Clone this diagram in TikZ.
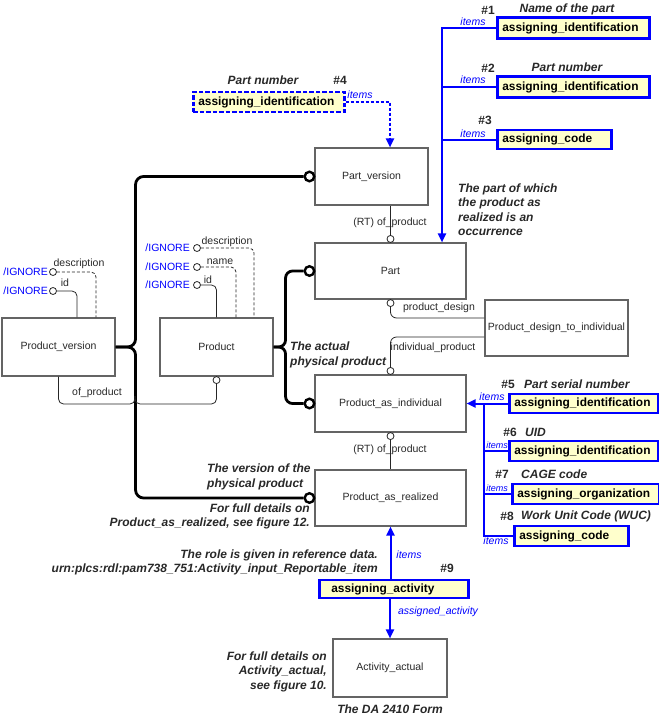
\documentclass[tikz,border=0pt]{standalone}
\usepackage{fontspec}
\setmainfont{Liberation Sans}
\usetikzlibrary{arrows.meta,calc}
\definecolor{bblue}{RGB}{0,0,255}
\definecolor{byel}{RGB}{255,255,204}
\definecolor{egray}{RGB}{100,100,100}
\definecolor{etext}{RGB}{40,40,40}
\begin{document}
\begin{tikzpicture}[x=1pt,y=-1pt,
 entity/.style={draw=egray,line width=1.1pt,fill=white,inner sep=0pt,font=\fontsize{10.5}{12.6}\selectfont,text=etext},
 abox/.style={draw=bblue,line width=2.6pt,fill=byel,inner xsep=5pt,inner ysep=0pt,align=left,font=\fontsize{11.9}{14}\selectfont\bfseries,anchor=west,text=black},
 dbox/.style={dash pattern=on 4.5pt off 2pt},
 lbl/.style={font=\fontsize{10.5}{12}\selectfont,text=etext,inner sep=0pt},
 ign/.style={font=\fontsize{10.5}{12}\selectfont,text=bblue,inner sep=0pt,anchor=east},
 hashn/.style={font=\fontsize{12}{14}\selectfont\bfseries,text=etext,inner sep=0pt},
 note/.style={font=\fontsize{12}{14.5}\selectfont\bfseries\itshape,text=etext,inner sep=0pt},
 itm/.style={font=\fontsize{10.5}{12}\selectfont\itshape,text=bblue,inner sep=0pt},
 itms/.style={font=\fontsize{9}{10}\selectfont\itshape,text=bblue,inner sep=0pt},
 thk/.style={draw=black,line width=2.8pt},
 thn/.style={draw=black!85,line width=0.8pt},
 bigc/.style={circle,draw=black,line width=2.4pt,fill=white,inner sep=0pt,minimum size=9.5pt},
 smc/.style={circle,draw=black!85,line width=0.8pt,fill=white,inner sep=0pt,minimum size=7pt},
 bl/.style={draw=bblue,line width=2pt},
 tip/.style={-{Triangle[length=9pt,width=8pt]}}
]
\useasboundingbox (0,0) rectangle (659,718);

% entities
\node[entity,minimum width=113,minimum height=58] (PV) at (58.5,347) {Product\_version};
\node[entity,minimum width=113,minimum height=58] (P) at (216.5,347) {Product};
\node[entity,minimum width=113,minimum height=57] (PartV) at (371.5,176.5) {Part\_version};
\node[entity,minimum width=151,minimum height=56] (Part) at (390.5,271) {Part};
\node[entity,minimum width=143,minimum height=56] (PDI) at (556.5,328) {Product\_design\_to\_individual};
\node[entity,minimum width=151,minimum height=57] (PAI) at (390.5,403.5) {Product\_as\_individual};
\node[entity,minimum width=151,minimum height=56] (PAR) at (390.5,498) {Product\_as\_realized};
\node[entity,minimum width=114,minimum height=58] (AA) at (390,668) {Activity\_actual};

% thick braces
\node[bigc] (cPV) at ([xshift=-5]PartV.west) {};
\node[bigc] (cPart) at ([xshift=-5]Part.west) {};
\node[bigc] (cPAI) at ([xshift=-5]PAI.west) {};
\node[bigc] (cPAR) at ([xshift=-5]PAR.west) {};
\draw[thk,rounded corners=8] (PV.east) -- ++(20,0) |- (cPV.west);
\draw[thk,rounded corners=8] (PV.east) -- ++(20,0) |- (cPAR.west);
\draw[thk,rounded corners=7] (P.east) -- ++(12,0) |- (cPart.west);
\draw[thk,rounded corners=7] (P.east) -- ++(12,0) |- (cPAI.west);

% thin relationships
\node[smc] (sRT1) at ([yshift=3.5]Part.north) {};
\draw[thn] (sRT1.north) -- (sRT1.north |- PartV.south);
\node[lbl] (lRT1) at (390,223) {(RT) of\_product};

\node[smc] (sPD) at ([yshift=-3.5]Part.south) {};
\draw[thn,rounded corners=6] (sPD.south) |- ([yshift=10]PDI.west);
\node[lbl] (lPD) at (439,308) {product\_design};

\node[smc] (sIP) at ([yshift=3.5]PAI.north) {};
\draw[thn,rounded corners=6] ([yshift=-9]PDI.west) -| (sIP.north);
\node[lbl] (lIP) at (433,348) {individual\_product};

\node[smc] (sRT2) at ([yshift=-3.5]PAI.south) {};
\draw[thn] (sRT2.south) -- (sRT2.south |- PAR.north);
\node[lbl] (lRT2) at (390,450) {(RT) of\_product};

\node[smc] (sOP) at ([yshift=-3.5]P.south) {};
\coordinate (opA) at (135,396);
\coordinate (opB) at (135,404);
\draw[thn,rounded corners=5] (PV.south) |- (opB) -- (opA);
\draw[thn,rounded corners=5] (opA) -- (opB) -| (sOP.south);
\node[lbl] (lOP) at (97,393) {of\_product};

% IGNORE attributes of Product_version
\node[smc] (iPVd) at (53,272) {};
\node[smc] (iPVi) at (53,291) {};
\draw[thn,dash pattern=on 3pt off 2pt,rounded corners=5] (iPVd.east) -| ([xshift=37.5]PV.north);
\draw[thn,rounded corners=5] (iPVi.east) -| ([xshift=18.5]PV.north);
\node[lbl] (lPVd) at (79,264) {description};
\node[lbl] (lPVi) at (65,283) {id};
\node[ign] (gPVd) at (48,272) {/IGNORE};
\node[ign] (gPVi) at (48,291) {/IGNORE};

% IGNORE attributes of Product
\node[smc] (iPd) at (197,248) {};
\node[smc] (iPn) at (197,267) {};
\node[smc] (iPi) at (197,285) {};
\draw[thn,dash pattern=on 3pt off 2pt,rounded corners=5] (iPd.east) -| ([xshift=37.5]P.north);
\draw[thn,dash pattern=on 3pt off 2pt,rounded corners=5] (iPn.east) -| ([xshift=19.5]P.north);
\draw[thn,rounded corners=5] (iPi.east) -| (P.north);
\node[lbl] (lPd) at (227,242) {description};
\node[lbl] (lPn) at (220,262) {name};
\node[lbl] (lPi) at (208,280) {id};
\node[ign] (gPd) at (190,248) {/IGNORE};
\node[ign] (gPn) at (190,267) {/IGNORE};
\node[ign] (gPi) at (190,285) {/IGNORE};

% blue assignment boxes
\node[abox,text width=142,minimum height=21] (b1) at (496,28) {assigning\_identification};
\node[abox,text width=142,minimum height=21] (b2) at (496,87) {assigning\_identification};
\node[abox,text width=104,minimum height=19] (b3) at (496,139.5) {assigning\_code};
\node[abox,dbox,text width=141,minimum height=20] (b4) at (192,102) {assigning\_identification};
\node[abox,text width=139,minimum height=19] (b5) at (508,403.5) {assigning\_identification};
\node[abox,text width=139,minimum height=20] (b6) at (508,451) {assigning\_identification};
\node[abox,text width=137,minimum height=20] (b7) at (511,494) {assigning\_organization};
\node[abox,text width=104,minimum height=20] (b8) at (513,536) {assigning\_code};
\node[abox,inner xsep=12pt,text width=125,minimum height=18] (b9) at (318,589) {assigning\_activity};

% blue connectors
\draw[bl,tip] (b1.west) -| ([xshift=51.5]Part.north);
\draw[bl] (b2.west) -- ++(-54,0);
\draw[bl] (b3.west) -- ++(-54,0);
\draw[bl,dash pattern=on 3pt off 2pt,tip] (b4.east) -| ([xshift=18.5]PartV.north);
\draw[bl,tip] (b5.west) -- (PAI.east);
\coordinate (v2) at ([xshift=17]PAI.east);
\draw[bl] (v2) |- (b8.west);
\draw[bl] (b6.west) -- (b6.west -| v2);
\draw[bl] (b7.west) -- (b7.west -| v2);
\draw[bl,tip] (b9.north -| PAR.south) -- (PAR.south);
\draw[bl,tip] (b9.south -| AA.north) -- (AA.north);

% numbers, role labels and notes
\node[hashn] (h1) at (488,10) {\#1};
\node[note] (n1) at (567,9) {Name of the part};
\node[itm] (i1) at (473,22) {items};
\node[hashn] (h2) at (488,68) {\#2};
\node[note] (n2) at (567,67) {Part number};
\node[itm] (i2) at (473,80) {items};
\node[hashn] (h3) at (485,120) {\#3};
\node[itm] (i3) at (473,134) {items};
\node[note] (n4) at (263,80) {Part number};
\node[hashn] (h4) at (340,80) {\#4};
\node[itm] (i4) at (360,95) {items};
\node[note,align=left,anchor=west] (n5) at (458,209.5) {The part of which\\the product as\\realized is an\\occurrence};
\node[note,align=left,anchor=west] (n6) at (290,355) {The actual\\physical product};
\node[hashn] (h5) at (508,384) {\#5};
\node[note,anchor=west] (n7) at (524,384) {Part serial number};
\node[itm] (i5) at (492,397) {items};
\node[hashn] (h6) at (510,432) {\#6};
\node[note,anchor=west] (n8) at (525,432) {UID};
\node[itms] (i6) at (497,445) {items};
\node[hashn] (h7) at (502,474) {\#7};
\node[note,anchor=west] (n9) at (521,474) {CAGE code};
\node[itms] (i7) at (497,488) {items};
\node[hashn] (h8) at (507,516) {\#8};
\node[note,anchor=west] (n10) at (521,516) {Work Unit Code (WUC)};
\node[itm] (i8) at (496,541) {items};
\node[note,align=left,anchor=west] (n11) at (207,477) {The version of the\\physical product};
\node[note,align=right,anchor=east] (n12) at (310,516.5) {For full details on\\Product\_as\_realized, see figure 12.};
\node[note,align=right,anchor=east] (n13) at (378,562.5) {The role is given in reference data.\\urn:plcs:rdl:pam738\_751:Activity\_input\_Reportable\_item};
\node[hashn] (h9) at (447,568) {\#9};
\node[itm] (i9) at (409,555) {items};
\node[itm] (i10) at (438,612) {assigned\_activity};
\node[note,align=right,anchor=east] (n14) at (327,671.5) {For full details on\\Activity\_actual,\\see figure 10.};
\node[note] (n15) at (390,709) {The DA 2410 Form};
\end{tikzpicture}
\end{document}
